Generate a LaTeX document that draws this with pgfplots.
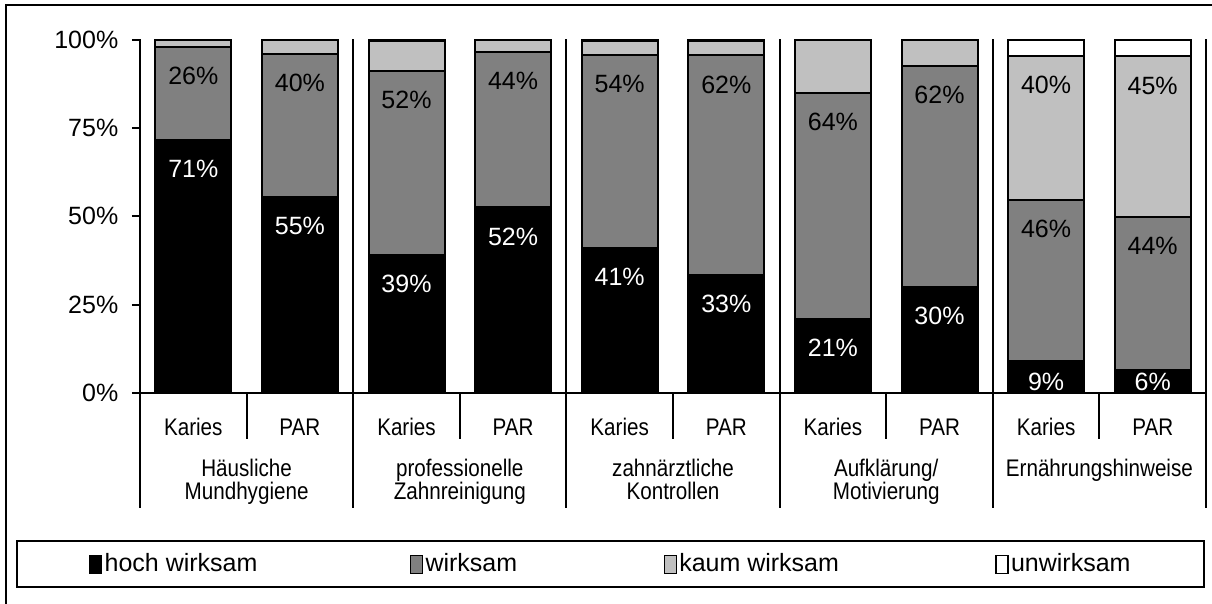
\documentclass[border=0pt]{standalone}
\usepackage{fontspec}
\setmainfont{Liberation Sans}
\newfontfamily\narrowfont{Liberation Sans}[FakeStretch=0.86]
\usepackage{pgfplots}
\usepackage{pgfplotstable}
\pgfplotsset{compat=1.18}
\definecolor{dg}{RGB}{128,128,128}
\definecolor{lg}{RGB}{192,192,192}

% segment values (percent)
\pgfplotstableread{
x hoch wirk kaum unw
0 71.5 26.5 2 0
1 55.5 40.5 4 0
2 39 52 8.5 0.5
3 52.5 44 3.5 0
4 41 54.5 4 0.5
5 33.5 62 4 0.5
6 21 64 15 0
7 30 62.5 7.5 0
8 9 45.5 40.8 4.7
9 6.5 43.2 45.5 4.8
}\data

% label positions and texts
\pgfplotstableread{
x y lab
0 63.3 71
1 47.3 55
2 30.8 39
3 44.3 52
4 32.8 41
5 25.3 33
6 12.8 21
7 21.8 30
8 3.1 9
9 3.1 6
}\labwhite
\pgfplotstableread{
x y lab
0 89.8 26
1 87.8 40
2 82.8 52
3 88.3 44
4 87.3 54
5 87.3 62
6 76.8 64
7 84.3 62
8 46.3 46
9 41.5 44
8 87.1 40
9 87.0 45
}\labblack

\begin{document}
\fontsize{12.5}{15}\selectfont
\begin{tikzpicture}
\useasboundingbox (0,0) rectangle (606pt,-302pt);
\draw[line width=1pt] (3pt,-2.5pt) rectangle (607pt,-303pt);
\draw[line width=1pt] (8.5pt,-270.5pt) rectangle (602pt,-293.5pt);
\begin{axis}[
  at={(70pt,-196.5pt)}, anchor=south west,
  scale only axis, width=533pt, height=176.75pt,
  xmin=-0.5, xmax=9.5, ymin=0, ymax=100,
  ybar stacked, bar width=38pt,
  axis x line=bottom, axis y line=left,
  axis line style={line width=1pt, -},
  ytick={0,25,50,75,100},
  yticklabels={0\%,25\%,50\%,75\%,100\%},
  tick align=outside, major tick length=4pt,
  tick style={line width=1pt, color=black},
  yticklabel style={xshift=-2.5pt, font=\fontsize{12.5}{15}\selectfont},
  xtick={0,1,2,3,4,5,6,7,8,9},
  xticklabels={Karies,PAR,Karies,PAR,Karies,PAR,Karies,PAR,Karies,PAR},
  xtick style={draw=none},
  xticklabel style={anchor=center, yshift=-13pt, font=\narrowfont\fontsize{12}{13}\selectfont},
  legend columns=4,
  legend cell align=left,
  area legend,
  legend image post style={line width=0.6pt, xscale=0.353, yscale=1.59},
  legend style={draw=none, fill=none, inner sep=0pt, outer sep=0pt,
    at={(-0.0478,-0.485)}, anchor=west,
    font=\fontsize{12.5}{15}\selectfont,
    nodes={inner sep=1.2pt},
    /tikz/column 2/.style={column sep=75pt},
    /tikz/column 4/.style={column sep=72pt},
    /tikz/column 6/.style={column sep=77pt}},
]
\addplot[fill=black, draw=black, line width=1pt] table[x=x, y=hoch]{\data};
\addlegendentry{hoch wirksam}
\addplot[fill=dg, draw=black, line width=1pt] table[x=x, y=wirk]{\data};
\addlegendentry{wirksam}
\addplot[fill=lg, draw=black, line width=1pt] table[x=x, y=kaum]{\data};
\addlegendentry{kaum wirksam}
\addplot[fill=white, draw=black, line width=1pt] table[x=x, y=unw]{\data};
\addlegendentry{unwirksam}
\end{axis}
\begin{axis}[at={(70pt,-196.5pt)}, anchor=south west,
  scale only axis, width=533pt, height=176.75pt,
  xmin=-0.5, xmax=9.5, ymin=0, ymax=100, clip=false, hide axis]
\addplot[only marks, mark=none, point meta=explicit symbolic,
  nodes near coords={\pgfplotspointmeta\%},
  nodes near coords style={anchor=center, text=white, font=\fontsize{12.5}{15}\selectfont}]
  table[x=x, y=y, meta=lab]{\labwhite};
\addplot[only marks, mark=none, point meta=explicit symbolic,
  nodes near coords={\pgfplotspointmeta\%},
  nodes near coords style={anchor=center, text=black, font=\fontsize{12.5}{15}\selectfont}]
  table[x=x, y=y, meta=lab]{\labblack};
\end{axis}
\foreach \k in {0,...,5} {
  \draw[line width=1pt] ({70pt+\k*106.6pt},-19.75pt) -- ({70pt+\k*106.6pt},-254pt);
}
\foreach \k in {0,...,4} {
  \draw[line width=1pt] ({123.3pt+\k*106.6pt},-196.5pt) -- ({123.3pt+\k*106.6pt},-219.5pt);
}
\foreach \k/\t in {0/{Häusliche\\Mundhygiene},1/{professionelle\\Zahnreinigung},2/{zahnärztliche\\Kontrollen},3/{Aufklärung/\\Motivierung},4/{Ernährungshinweise}} {
  \node[align=center, anchor=north, inner sep=0pt, font=\narrowfont\fontsize{12}{11.6}\selectfont]
    at ({123.3pt+\k*106.6pt},-229.5pt) {\t};
}
\end{tikzpicture}
\end{document}
